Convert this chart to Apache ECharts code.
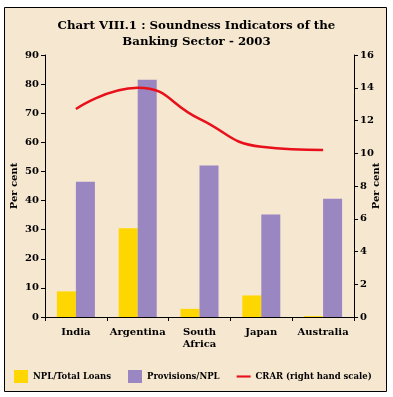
<!DOCTYPE html>
<html><head><meta charset="utf-8">
<script src="https://cdn.jsdelivr.net/npm/echarts@6/dist/echarts.min.js"></script>
<style>html,body{margin:0;padding:0;background:#fff}#c{width:393px;height:397px}</style>
</head><body><div id="c"></div>
<script>
var categories = ['India', 'Argentina', 'South\nAfrica', 'Japan', 'Australia'];
var nplTotalLoans = [8.8, 30.5, 2.8, 7.4, 0.3];
var provisionsNpl = [46.5, 81.5, 52.0, 35.2, 40.6];
var crar = [12.7, 14.0, 12.1, 10.4, 10.2];
var leftTicks = {min: 0, max: 90, interval: 10};
var rightTicks = {min: 0, max: 16, interval: 2};

var font = 'DejaVu Serif';
var chart = echarts.init(document.getElementById('c'));
chart.setOption({
  backgroundColor: '#ffffff',
  animation: false,
  graphic: [{
    type: 'rect', z: -10,
    shape: {x: 4.5, y: 7.5, width: 382, height: 384},
    style: {fill: '#f6e7d0', stroke: '#000', lineWidth: 1}
  }],
  title: {
    text: 'Chart VIII.1 : Soundness Indicators of the\nBanking Sector - 2003',
    left: 'center', top: 13,
    textStyle: {fontFamily: font, fontWeight: 'bold', fontSize: 11.8, lineHeight: 16, color: '#000'}
  },
  legend: {
    top: 365, left: 9, itemGap: 17, itemWidth: 14, itemHeight: 13,
    textStyle: {fontFamily: font, fontWeight: 'bold', fontSize: 8.5, color: '#000'},
    data: [
      {name: 'NPL/Total Loans', icon: 'rect'},
      {name: 'Provisions/NPL', icon: 'rect'},
      {name: 'CRAR (right hand scale)', icon: 'path://M0,0H20V3H0Z'}
    ]
  },
  grid: {left: 45, right: 39, top: 55, bottom: 80, containLabel: false, outerBoundsMode: 'none'},
  xAxis: {
    type: 'category', data: categories,
    axisLine: {lineStyle: {color: '#000'}},
    axisTick: {show: true, alignWithLabel: false, length: 4, lineStyle: {color: '#000'}},
    axisLabel: {fontFamily: font, fontWeight: 'bold', fontSize: 10, color: '#000', margin: 9, lineHeight: 12, interval: 0}
  },
  yAxis: [{
    type: 'value', min: leftTicks.min, max: leftTicks.max, interval: leftTicks.interval,
    name: 'Per cent', nameLocation: 'middle', nameGap: 26, nameRotate: 90, nameMoveOverlap: false,
    nameTextStyle: {fontFamily: font, fontWeight: 'bold', fontSize: 10, color: '#000'},
    axisLine: {show: true, lineStyle: {color: '#000'}},
    axisTick: {show: true, length: 4, lineStyle: {color: '#000'}},
    splitLine: {show: false},
    axisLabel: {fontFamily: font, fontWeight: 'bold', fontSize: 10, color: '#000', margin: 6}
  }, {
    type: 'value', min: rightTicks.min, max: rightTicks.max, interval: rightTicks.interval,
    position: 'right',
    name: 'Per cent', nameLocation: 'middle', nameGap: 17, nameRotate: 90, nameMoveOverlap: false,
    nameTextStyle: {fontFamily: font, fontWeight: 'bold', fontSize: 10, color: '#000'},
    axisLine: {show: true, lineStyle: {color: '#000'}},
    axisTick: {show: true, length: 4, lineStyle: {color: '#000'}},
    splitLine: {show: false},
    axisLabel: {fontFamily: font, fontWeight: 'bold', fontSize: 10, color: '#000', margin: 6}
  }],
  series: [{
    name: 'NPL/Total Loans', type: 'bar', data: nplTotalLoans,
    barWidth: 19, barGap: '0%', itemStyle: {color: '#ffd700'}
  }, {
    name: 'Provisions/NPL', type: 'bar', data: provisionsNpl,
    barWidth: 19, barGap: '0%', itemStyle: {color: '#9a86c0'}
  }, {
    name: 'CRAR (right hand scale)', type: 'line', yAxisIndex: 1, data: crar,
    smooth: true, symbol: 'none', itemStyle: {color: '#e8101a'},
    lineStyle: {color: '#e8101a', width: 2.5}
  }]
});
</script></body></html>
